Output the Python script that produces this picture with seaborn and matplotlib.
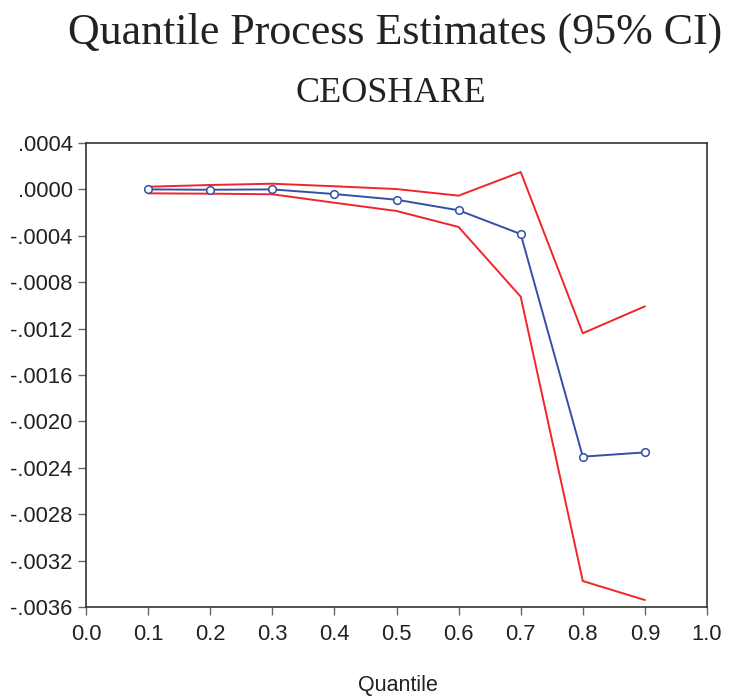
import matplotlib
matplotlib.use("Agg")
import matplotlib.pyplot as plt
import pandas as pd
import seaborn as sns

# 분위수별 추정치와 95% 신뢰구간
quantiles = [0.1, 0.2, 0.3, 0.4, 0.5, 0.6, 0.7, 0.8, 0.9]
estimate = [0.0000, -0.000003, 0.0000, -0.00004, -0.000089, -0.00018, -0.000385, -0.002304, -0.002267]
upper_ci = [0.000023, 0.000038, 0.000049, 0.000027, 0.000003, -0.000054, 0.00015, -0.00124, -0.001008]
lower_ci = [-0.000034, -0.000037, -0.000042, -0.000115, -0.000186, -0.000324, -0.000925, -0.003376, -0.00354]

y_ticks = [0.0004, 0.0, -0.0004, -0.0008, -0.0012, -0.0016, -0.0020, -0.0024, -0.0028, -0.0032, -0.0036]
y_tick_labels = [".0004", ".0000", "-.0004", "-.0008", "-.0012", "-.0016", "-.0020",
                 "-.0024", "-.0028", "-.0032", "-.0036"]
x_ticks = [0.0, 0.1, 0.2, 0.3, 0.4, 0.5, 0.6, 0.7, 0.8, 0.9, 1.0]

df = pd.DataFrame({"Quantile": quantiles, "Estimate": estimate,
                   "Upper": upper_ci, "Lower": lower_ci})

sns.set_style("ticks")
plt.rcParams["font.family"] = ["Liberation Sans", "DejaVu Sans"]

fig = plt.figure(figsize=(7.29, 6.98), dpi=100)
ax = fig.add_axes([86 / 729, 1 - 607 / 698, (707 - 86) / 729, (607 - 143) / 698])

red = "#F2242B"
blue = "#3350A6"
sns.lineplot(data=df, x="Quantile", y="Upper", color=red, lw=1.4, ax=ax)
sns.lineplot(data=df, x="Quantile", y="Lower", color=red, lw=1.4, ax=ax)
sns.lineplot(data=df, x="Quantile", y="Estimate", color=blue, lw=1.4, marker="o",
             markersize=5.5, markerfacecolor="white", markeredgecolor=blue,
             markeredgewidth=1.1, ax=ax)

ax.set_xlim(0.0, 1.0)
ax.set_ylim(-0.0036, 0.0004)
ax.set_xticks(x_ticks)
ax.set_xticklabels([f"{t:.1f}" for t in x_ticks], fontsize=15.8, color="#222222")
ax.set_yticks(y_ticks)
ax.set_yticklabels(y_tick_labels, fontsize=15.8, color="#222222")
ax.tick_params(direction="out", length=6, width=1, color="#666666", pad=3.5)
ax.tick_params(axis="x", pad=6)
ax.set_xlabel("")
ax.set_ylabel("")
for s in ax.spines.values():
    s.set_visible(True)
    s.set_color("#333333")
    s.set_linewidth(1.2)

fig.text(395 / 729, 1 - 33 / 698, "Quantile Process Estimates (95% CI)",
         ha="center", va="center", fontsize=31.7, family="Liberation Serif", color="#222222")
fig.text(391 / 729, 1 - 94 / 698, "CEOSHARE", ha="center", va="center",
         fontsize=26, family="Liberation Serif", color="#222222")
fig.text(398 / 729, 1 - 686 / 698, "Quantile", ha="center", va="center",
         fontsize=15.5, color="#222222")

fig.savefig("out.png", dpi=100)
